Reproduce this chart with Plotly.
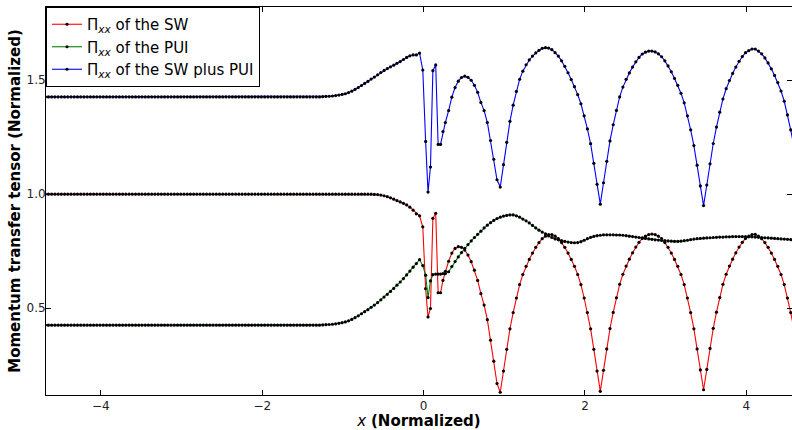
import plotly.graph_objects as go

# ---------------- data ----------------
# upstream region (x = -4.69 ... -0.09)
x_upstream = [
    -4.69, -4.65, -4.61, -4.57, -4.53, -4.49, -4.45, -4.41, -4.37, -4.33,
    -4.29, -4.25, -4.21, -4.17, -4.13, -4.09, -4.05, -4.01, -3.97, -3.93,
    -3.89, -3.85, -3.81, -3.77, -3.73, -3.69, -3.65, -3.61, -3.57, -3.53,
    -3.49, -3.45, -3.41, -3.37, -3.33, -3.29, -3.25, -3.21, -3.17, -3.13,
    -3.09, -3.05, -3.01, -2.97, -2.93, -2.89, -2.85, -2.81, -2.77, -2.73,
    -2.69, -2.65, -2.61, -2.57, -2.53, -2.49, -2.45, -2.41, -2.37, -2.33,
    -2.29, -2.25, -2.21, -2.17, -2.13, -2.09, -2.05, -2.01, -1.97, -1.93,
    -1.89, -1.85, -1.81, -1.77, -1.73, -1.69, -1.65, -1.61, -1.57, -1.53,
    -1.49, -1.45, -1.41, -1.37, -1.33, -1.29, -1.25, -1.21, -1.17, -1.13,
    -1.09, -1.05, -1.01, -0.97, -0.93, -0.89, -0.85, -0.81, -0.77, -0.73,
    -0.69, -0.65, -0.61, -0.57, -0.53, -0.49, -0.45, -0.41, -0.37, -0.33,
    -0.29, -0.25, -0.21, -0.17, -0.13, -0.09,
]
sw_upstream = [
    1.0, 1.0, 1.0, 1.0, 1.0, 1.0, 1.0, 1.0, 1.0, 1.0,
    1.0, 1.0, 1.0, 1.0, 1.0, 1.0, 1.0, 1.0, 1.0, 1.0,
    1.0, 1.0, 1.0, 1.0, 1.0, 1.0, 1.0, 1.0, 1.0, 1.0,
    1.0, 1.0, 1.0, 1.0, 1.0, 1.0, 1.0, 1.0, 1.0, 1.0,
    1.0, 1.0, 1.0, 1.0, 1.0, 1.0, 1.0, 1.0, 1.0, 1.0,
    1.0, 1.0, 1.0, 1.0, 1.0, 1.0, 1.0, 1.0, 1.0, 1.0,
    1.0, 1.0, 1.0, 1.0, 1.0, 1.0, 1.0, 1.0, 1.0, 1.0,
    1.0, 1.0, 1.0, 1.0, 1.0, 1.0, 1.0, 1.0, 1.0, 1.0,
    1.0, 1.0, 1.0, 1.0, 1.0, 1.0, 1.0, 1.0, 1.0, 1.0,
    1.0, 1.0, 1.0, 1.0, 1.0, 1.0, 1.0, 1.0, 1.0, 1.0,
    1.0, 1.0, 0.999, 0.998, 0.996, 0.993, 0.989, 0.984, 0.978, 0.972,
    0.966, 0.960, 0.953, 0.943, 0.930, 0.914,
]
pui_upstream = [
    0.426, 0.426, 0.426, 0.426, 0.426, 0.426, 0.426, 0.426, 0.426, 0.426,
    0.426, 0.426, 0.426, 0.426, 0.426, 0.426, 0.426, 0.426, 0.426, 0.426,
    0.426, 0.426, 0.426, 0.426, 0.426, 0.426, 0.426, 0.426, 0.426, 0.426,
    0.426, 0.426, 0.426, 0.426, 0.426, 0.426, 0.426, 0.426, 0.426, 0.426,
    0.426, 0.426, 0.426, 0.426, 0.426, 0.426, 0.426, 0.426, 0.426, 0.426,
    0.426, 0.426, 0.426, 0.426, 0.426, 0.426, 0.426, 0.426, 0.426, 0.426,
    0.426, 0.426, 0.426, 0.426, 0.426, 0.426, 0.426, 0.426, 0.426, 0.426,
    0.426, 0.426, 0.426, 0.426, 0.426, 0.426, 0.426, 0.426, 0.426, 0.426,
    0.426, 0.426, 0.426, 0.426, 0.426, 0.426, 0.427, 0.428, 0.429, 0.430,
    0.432, 0.434, 0.437, 0.440, 0.445, 0.451, 0.459, 0.467, 0.476, 0.485,
    0.494, 0.504, 0.514, 0.525, 0.537, 0.549, 0.561, 0.574, 0.587, 0.601,
    0.615, 0.630, 0.646, 0.663, 0.680, 0.696,
]

# shock ramp region
x_shock = [-0.05, -0.01, 0.025, 0.055, 0.085, 0.115, 0.15, 0.18, 0.21, 0.24]
sw_shock = [0.905, 0.857, 0.586, 0.462, 0.499, 0.894, 0.916, 0.568, 0.568, 0.622]
pui_shock = [0.713, 0.687, 0.645, 0.547, 0.620, 0.647, 0.650, 0.650, 0.650, 0.652]

# downstream region (x = 0.27 ... 4.59)
x_downstream = [
    0.27, 0.31, 0.35, 0.39, 0.43, 0.47, 0.51, 0.55, 0.59, 0.63,
    0.67, 0.71, 0.75, 0.79, 0.83, 0.87, 0.91, 0.95, 0.99, 1.03,
    1.07, 1.11, 1.15, 1.19, 1.23, 1.27, 1.31, 1.35, 1.39, 1.43,
    1.47, 1.51, 1.55, 1.59, 1.63, 1.67, 1.71, 1.75, 1.79, 1.83,
    1.87, 1.91, 1.95, 1.99, 2.03, 2.07, 2.11, 2.15, 2.19, 2.23,
    2.27, 2.31, 2.35, 2.39, 2.43, 2.47, 2.51, 2.55, 2.59, 2.63,
    2.67, 2.71, 2.75, 2.79, 2.83, 2.87, 2.91, 2.95, 2.99, 3.03,
    3.07, 3.11, 3.15, 3.19, 3.23, 3.27, 3.31, 3.35, 3.39, 3.43,
    3.47, 3.51, 3.55, 3.59, 3.63, 3.67, 3.71, 3.75, 3.79, 3.83,
    3.87, 3.91, 3.95, 3.99, 4.03, 4.07, 4.11, 4.15, 4.19, 4.23,
    4.27, 4.31, 4.35, 4.39, 4.43, 4.47, 4.51, 4.55, 4.59,
]
sw_downstream = [
    0.662, 0.706, 0.742, 0.762, 0.770, 0.767, 0.755, 0.733, 0.704, 0.667,
    0.622, 0.564, 0.514, 0.450, 0.360, 0.268, 0.170, 0.132, 0.225, 0.320,
    0.410, 0.481, 0.545, 0.604, 0.648, 0.684, 0.714, 0.742, 0.767, 0.788,
    0.805, 0.816, 0.823, 0.823, 0.816, 0.805, 0.788, 0.767, 0.742, 0.714,
    0.684, 0.648, 0.604, 0.545, 0.481, 0.410, 0.320, 0.225, 0.136, 0.228,
    0.322, 0.411, 0.482, 0.546, 0.605, 0.649, 0.685, 0.715, 0.743, 0.768,
    0.789, 0.806, 0.816, 0.823, 0.825, 0.823, 0.816, 0.805, 0.788, 0.767,
    0.742, 0.714, 0.684, 0.648, 0.604, 0.545, 0.481, 0.410, 0.322, 0.230,
    0.143, 0.232, 0.324, 0.412, 0.483, 0.547, 0.605, 0.649, 0.685, 0.715,
    0.743, 0.768, 0.789, 0.806, 0.816, 0.823, 0.824, 0.816, 0.805, 0.788,
    0.767, 0.742, 0.714, 0.684, 0.648, 0.604, 0.545, 0.481, 0.410,
]
pui_downstream = [
    0.652, 0.660, 0.683, 0.705, 0.725, 0.744, 0.762, 0.779, 0.795, 0.810,
    0.824, 0.838, 0.852, 0.864, 0.875, 0.885, 0.893, 0.899, 0.904, 0.907,
    0.909, 0.909, 0.905, 0.899, 0.891, 0.883, 0.874, 0.863, 0.852, 0.842,
    0.834, 0.826, 0.817, 0.810, 0.804, 0.800, 0.796, 0.793, 0.790, 0.788,
    0.787, 0.788, 0.792, 0.798, 0.805, 0.811, 0.815, 0.818, 0.820, 0.822,
    0.822, 0.822, 0.822, 0.821, 0.821, 0.820, 0.818, 0.816, 0.814, 0.812,
    0.810, 0.808, 0.806, 0.804, 0.802, 0.800, 0.799, 0.797, 0.796, 0.795,
    0.794, 0.793, 0.793, 0.794, 0.796, 0.798, 0.801, 0.803, 0.805, 0.806,
    0.807, 0.808, 0.809, 0.810, 0.811, 0.812, 0.812, 0.813, 0.813, 0.814,
    0.814, 0.814, 0.814, 0.814, 0.813, 0.813, 0.812, 0.811, 0.810, 0.809,
    0.808, 0.807, 0.806, 0.805, 0.804, 0.803, 0.802, 0.801, 0.800,
]

x_tick_values = [-4, -2, 0, 2, 4]
y_tick_values = [0.5, 1.0, 1.5]
y_tick_labels = ["0.5", "1.0", "1.5"]

series_names = [
    "Π<sub><i>xx</i></sub> of the SW",
    "Π<sub><i>xx</i></sub> of the PUI",
    "Π<sub><i>xx</i></sub> of the SW plus PUI",
]
series_colors = ["#ff0000", "#008000", "#0000ff"]

# ---------------- assemble ----------------
x = x_upstream + x_shock + x_downstream
sw = sw_upstream + sw_shock + sw_downstream
pui = pui_upstream + pui_shock + pui_downstream
total = [a + b for a, b in zip(sw, pui)]

FONT = "DejaVu Sans"
fig = go.Figure()
for name, color, ys, grp in zip(series_names, series_colors, [sw, pui, total], ["a", "b", "c"]):
    fig.add_trace(go.Scatter(
        x=x, y=ys, name=name, mode="lines+markers",
        legendgroup=grp,
        line=dict(color=color, width=1.1),
        marker=dict(color="black", size=3.2, line=dict(width=0)),
    ))

fig.update_layout(
    width=792, height=430,
    margin=dict(l=46, r=0, t=7, b=35),
    paper_bgcolor="white", plot_bgcolor="white",
    font=dict(family=FONT, color="#222"),
    showlegend=True,
    legend=dict(
        x=0, y=1, xanchor="left", yanchor="top",
        bgcolor="white", bordercolor="black", borderwidth=1,
        font=dict(family=FONT, size=15, color="black"),
        itemwidth=30, tracegroupgap=0,
    ),
)
fig.update_xaxes(
    range=[-4.68, 4.566], tickvals=x_tick_values,
    ticks="inside", ticklen=5, tickcolor="black",
    showline=True, linecolor="black", linewidth=1, mirror="ticks",
    showgrid=False, zeroline=False,
    tickfont=dict(family=FONT, size=12, color="#222"),
    title=dict(text="<i>x</i> <b>(Normalized)</b>", font=dict(family=FONT, size=15, color="black"), standoff=2),
    automargin=False,
)
fig.update_yaxes(
    range=[0.12, 1.82], tickvals=y_tick_values, ticktext=y_tick_labels,
    ticks="inside", ticklen=5, tickcolor="black",
    showline=True, linecolor="black", linewidth=1, mirror="ticks",
    showgrid=False, zeroline=False,
    ticklabelstandoff=-3,
    tickfont=dict(family=FONT, size=12, color="#222"),
    title=dict(text="<b>Momentum transfer tensor (Normalized)</b>", font=dict(family=FONT, size=15, color="black"), standoff=2),
    automargin=False,
)

fig.write_html(
    "out.html",
    config={"displayModeBar": False},
    post_script="document.body.style.margin='0';document.body.style.overflow='hidden';",
)
